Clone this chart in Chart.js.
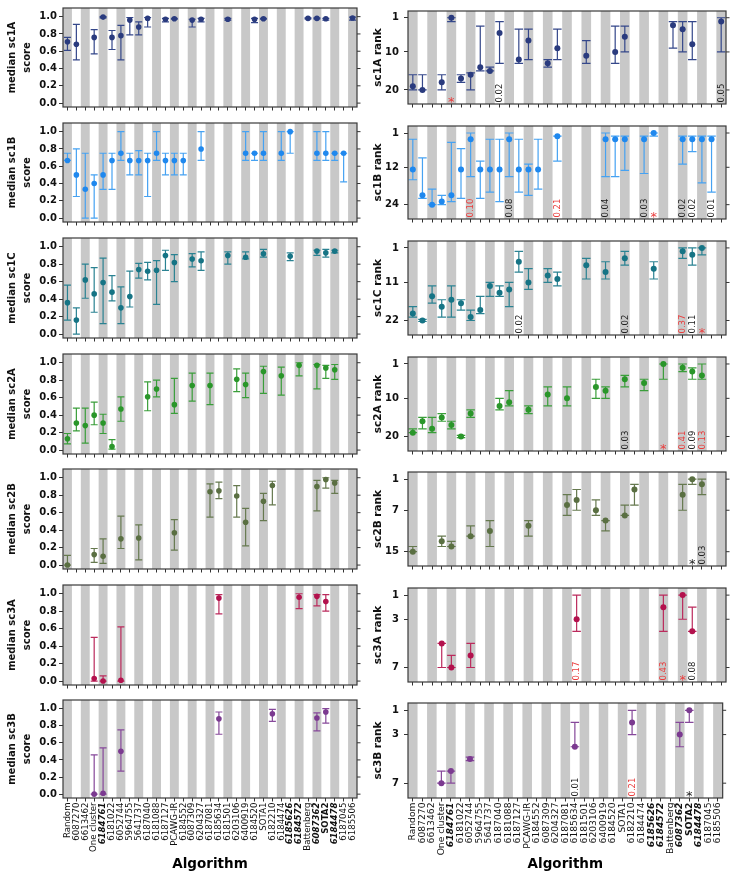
<!DOCTYPE html>
<html><head><meta charset="utf-8">
<script src="https://cdn.jsdelivr.net/npm/chart.js@4.4.1/dist/chart.umd.min.js"></script>
<style>
html,body{margin:0;padding:0;background:#fff;width:730px;height:874px;overflow:hidden;position:relative}
canvas{position:absolute}
</style></head><body>
<script>
const _ = null;
const categories = ["Random","6087270","6613462","One cluster","6184761","6181022","6052744","5964755","5641737","6187040","6181088",
  "6187127","PCAWG-IR","6184552","6087309","6204327","6187081","6185634","6181501","6203106","6400919","6184520",
  "SOTA1","6182210","6184474","6185626","6184572","Battenberg","6087362","SOTA2","6184478","6187045","6185506"];
const boldItalicLabels = ["6184761","6185626","6184572","6087362","6184478"];
const boldLabels = ["SOTA2"];
const scoreTicks = [0,0.2,0.4,0.6,0.8,1.0];

// ---- sc1A ----
const sc1A_score    = [0.71,0.68,_,0.76,0.995,0.76,0.78,0.96,0.88,0.98,_, 0.97,0.975,_,0.96,0.97,_,_,0.97,_,_,0.97, 0.975,_,_,_,_,0.98,0.98,0.975,_,_,0.985];
const sc1A_score_lo = [0.61,0.50,_,0.57,0.985,0.62,0.50,0.79,0.79,0.88,_, 0.94,0.97,_,0.88,0.94,_,_,0.96,_,_,0.93, 0.97,_,_,_,_,0.975,0.975,0.96,_,_,0.96];
const sc1A_score_hi = [0.76,0.91,_,0.85,1.0,0.84,0.90,0.99,0.94,0.99,_, 0.98,0.98,_,0.97,0.98,_,_,0.98,_,_,0.98, 0.98,_,_,_,_,0.985,0.985,0.98,_,_,0.995];
const sc1A_rank     = [19,20,_,18,1,17,16,14,15,5,_, 12,7,_,13,9,_,_,11,_,_,10, 6,_,_,_,_,3,4,8,_,_,2];
const sc1A_rank_lo  = [16,16,_,16,1,16,15.5,3.2,14,2,_, 4,4,_,12,4,_,_,7,_,_,3.2, 3.2,_,_,_,_,2,2,2,_,_,1];
const sc1A_rank_hi  = [20,20,_,20,2,18,20,15,15,13,_, 13,12,_,14,12,_,_,13,_,_,13, 10,_,_,_,_,9,10,12,_,_,10];
const sc1A_rank_ticks = [1,10,20];
const sc1A_notes = [[4,"*","r"],[9,"0.02","k"],[32,"0.05","k"]];

// ---- sc1B ----
const sc1B_score    = [0.667,0.5,0.333,0.4,0.5,0.667,0.75,0.667,0.667,0.667,0.75, 0.667,0.667,0.667,_,0.8,_,_,_,_,0.75,0.75, 0.75,_,0.75,1.0,_,_,0.75,0.75,0.75,0.75,_];
const sc1B_score_lo = [0.667,0.25,0.0,0.0,0.333,0.333,0.667,0.5,0.5,0.25,0.667, 0.5,0.5,0.5,_,0.667,_,_,_,_,0.667,0.667, 0.667,_,0.667,0.75,_,_,0.667,0.667,0.667,0.42,_];
const sc1B_score_hi = [0.75,0.8,0.75,0.5,0.75,0.75,1.0,0.75,0.78,0.75,1.0, 0.75,0.75,0.75,_,1.0,_,_,_,_,1.0,0.75, 1.0,_,1.0,1.0,_,_,1.0,1.0,0.75,0.75,_];
const sc1B_rank     = [12.7,21,24,23,21,12.7,3,12.7,12.7,12.7,3, 12.7,12.7,12.7,_,2,_,_,_,_,3,3, 3,_,3,1,_,_,3,3,3,3,_];
const sc1B_rank_lo  = [3,9,19,21,4,6,1,10,3,3,1, 3,11,3,_,2,_,_,_,_,1,2, 2,_,2,1,_,_,2,2,2,2,_];
const sc1B_rank_hi  = [16,22,24,24,23,22,15,22,20,23,15, 20,21,19,_,10,_,_,_,_,15,15, 13,_,14,2,_,_,11,7,17,20,_];
const sc1B_rank_ticks = [1,12,24];
const sc1B_notes = [[6,"0.10","r"],[10,"0.08","k"],[15,"0.21","r"],[20,"0.04","k"],[24,"0.03","k"],[25,"*","r"],[28,"0.02","k"],[29,"0.02","k"],[31,"0.01","k"]];

// ---- sc1C ----
const sc1C_score    = [0.36,0.16,0.62,0.46,0.59,0.48,0.30,0.43,0.74,0.72,0.73, 0.90,0.82,_,0.86,0.84,_,_,0.90,_,0.88,_, 0.92,_,_,0.89,_,_,0.95,0.93,0.95,_,_];
const sc1C_score_lo = [0.16,0.0,0.41,0.25,0.12,0.38,0.12,0.31,0.64,0.62,0.34, 0.73,0.60,_,0.77,0.73,_,_,0.80,_,0.86,_, 0.88,_,_,0.84,_,_,0.90,0.88,0.93,_,_];
const sc1C_score_hi = [0.56,0.30,0.80,0.76,0.87,0.67,0.54,0.72,0.81,0.82,0.84, 0.96,0.91,_,0.92,0.94,_,_,0.94,_,0.94,_, 0.97,_,_,0.93,_,_,0.96,0.97,0.96,_,_];
const sc1C_rank     = [20,22,15,18,16,17,21,19,12,14,13, 5,11,_,9,10,_,_,6,_,8,_, 4,_,_,7,_,_,2,3,1,_,_];
const sc1C_rank_lo  = [18,21.7,12,16,12,16,19,15,11,12,11, 2,7,_,7,8,_,_,4,_,5,_, 2,_,_,5,_,_,1,1,1,_,_];
const sc1C_rank_hi  = [21,22.3,17,21,21,19,22,20,15,15,18, 8,13,_,11,12,_,_,10,_,10,_, 6,_,_,10,_,_,4,6,3,_,_];
const sc1C_rank_ticks = [1,11,22];
const sc1C_notes = [[11,"0.02","k"],[22,"0.02","k"],[28,"0.37","r"],[29,"0.11","k"],[30,"*","r"]];

// ---- sc2A ----
const sc2A_score    = [0.13,0.31,0.28,0.40,0.31,0.04,0.47,_,_,0.61,0.70, _,0.52,_,0.74,_,0.74,_,_,0.81,0.75,_, 0.90,_,0.85,_,0.97,_,0.97,0.94,0.92,_,_];
const sc2A_score_lo = [0.07,0.22,0.08,0.29,0.19,0.01,0.33,_,_,0.45,0.61, _,0.42,_,0.56,_,0.52,_,_,0.67,0.60,_, 0.65,_,0.63,_,0.85,_,0.70,0.82,0.81,_,_];
const sc2A_score_hi = [0.19,0.48,0.48,0.55,0.41,0.12,0.61,_,_,0.78,0.80, _,0.82,_,0.88,_,0.88,_,_,0.93,0.88,_, 0.96,_,0.95,_,1.0,_,0.98,0.97,0.98,_,_];
const sc2A_rank     = [19,16,18,15,17,20,14,_,_,12,11, _,13,_,9,_,10,_,_,7,8,_, 5,_,6,_,1,_,2,3,4,_,_];
const sc2A_rank_lo  = [18,15,15,14,16,19.7,13,_,_,10,8, _,12,_,7,_,7,_,_,5,7,_, 4,_,5,_,1,_,1,2,1,_,_];
const sc2A_rank_hi  = [19,18,19,16,18,20.3,15,_,_,13,12, _,14,_,12,_,12,_,_,10,10,_, 7,_,8,_,5,_,3,5,5,_,_];
const sc2A_rank_ticks = [1,10,20];
const sc2A_notes = [[22,"0.03","k"],[26,"*","r"],[28,"0.41","r"],[29,"0.09","k"],[30,"0.13","r"]];

// ---- sc2B ----
const sc2B_score    = [0.0,_,_,0.12,0.10,_,0.30,_,0.31,_,_, _,0.37,_,_,_,0.84,0.85,_,0.79,0.49,_, 0.73,0.91,_,_,_,_,0.90,0.98,0.94,_,_];
const sc2B_score_lo = [0.0,_,_,0.03,0.02,_,0.19,_,0.06,_,_, _,0.17,_,_,_,0.55,0.76,_,0.55,0.22,_, 0.51,0.69,_,_,_,_,0.62,0.88,0.82,_,_];
const sc2B_score_hi = [0.11,_,_,0.19,0.30,_,0.56,_,0.46,_,_, _,0.52,_,_,_,0.93,0.95,_,0.91,0.65,_, 0.82,0.96,_,_,_,_,0.97,1.0,0.97,_,_];
const sc2B_rank     = [15,_,_,13,14,_,12,_,11,_,_, _,10,_,_,_,6,5,_,7,9,_, 8,3,_,_,_,_,4,1,2,_,_];
const sc2B_rank_lo  = [14,_,_,12,13,_,10,_,9,_,_, _,9,_,_,_,4,3,_,5,9,_, 6,2,_,_,_,_,2,1,1,_,_];
const sc2B_rank_hi  = [15,_,_,14,14,_,12,_,14,_,_, _,12,_,_,_,8,7,_,8,11,_, 8,6,_,_,_,_,7,2,4,_,_];
const sc2B_rank_ticks = [1,7,15];
const sc2B_notes = [[29,"*","k"],[30,"0.03","k"]];

// ---- sc3A ----
const sc3A_score    = [_,_,_,0.03,0.0,_,0.01,_,_,_,_, _,_,_,_,_,_,0.95,_,_,_,_, _,_,_,_,0.96,_,0.97,0.91,_,_,_];
const sc3A_score_lo = [_,_,_,0.0,0.0,_,0.0,_,_,_,_, _,_,_,_,_,_,0.77,_,_,_,_, _,_,_,_,0.83,_,0.86,0.80,_,_,_];
const sc3A_score_hi = [_,_,_,0.50,0.06,_,0.62,_,_,_,_, _,_,_,_,_,_,0.99,_,_,_,_, _,_,_,_,1.0,_,0.99,0.99,_,_,_];
const sc3A_rank     = [_,_,_,5,7,_,6,_,_,_,_, _,_,_,_,_,_,3,_,_,_,_, _,_,_,_,2,_,1,4,_,_,_];
const sc3A_rank_lo  = [_,_,_,5,6,_,5,_,_,_,_, _,_,_,_,_,_,1,_,_,_,_, _,_,_,_,1,_,1,2,_,_,_];
const sc3A_rank_hi  = [_,_,_,7,7,_,7,_,_,_,_, _,_,_,_,_,_,4,_,_,_,_, _,_,_,_,4,_,3,4,_,_,_];
const sc3A_rank_ticks = [1,3,7];
const sc3A_notes = [[17,"0.17","r"],[26,"0.43","r"],[28,"*","r"],[29,"0.08","k"]];

// ---- sc3B ----
const sc3B_score    = [_,_,_,0.0,0.01,_,0.50,_,_,_,_, _,_,_,_,_,_,0.88,_,_,_,_, _,0.94,_,_,_,_,0.89,0.96,_,_,_];
const sc3B_score_lo = [_,_,_,0.0,0.0,_,0.27,_,_,_,_, _,_,_,_,_,_,0.70,_,_,_,_, _,0.85,_,_,_,_,0.74,0.83,_,_,_];
const sc3B_score_hi = [_,_,_,0.46,0.54,_,0.75,_,_,_,_, _,_,_,_,_,_,0.96,_,_,_,_, _,0.99,_,_,_,_,0.95,1.0,_,_,_];
const sc3B_rank     = [_,_,_,7,6,_,5,_,_,_,_, _,_,_,_,_,_,4,_,_,_,_, _,2,_,_,_,_,3,1,_,_,_];
const sc3B_rank_lo  = [_,_,_,6,6,_,4.85,_,_,_,_, _,_,_,_,_,_,2,_,_,_,_, _,1,_,_,_,_,2,1,_,_,_];
const sc3B_rank_hi  = [_,_,_,7,7,_,5.15,_,_,_,_, _,_,_,_,_,_,4,_,_,_,_, _,3,_,_,_,_,4,2,_,_,_];
const sc3B_rank_ticks = [1,3,7];
const sc3B_notes = [[17,"0.01","k"],[23,"0.21","r"],[29,"*","k"]];

// ---- panel styling / layout ----
const FONT = "'DejaVu Sans', 'Liberation Sans', sans-serif";
const rowsCfg = [
  {key:"sc1A", color:"#2a3b7e", err:"#34478a", score:[sc1A_score,sc1A_score_lo,sc1A_score_hi], rank:[sc1A_rank,sc1A_rank_lo,sc1A_rank_hi], rticks:sc1A_rank_ticks, rrange:[-0.77,23.7], notes:sc1A_notes},
  {key:"sc1B", color:"#1f88ee", err:"#46a2f2", score:[sc1B_score,sc1B_score_lo,sc1B_score_hi], rank:[sc1B_rank,sc1B_rank_lo,sc1B_rank_hi], rticks:sc1B_rank_ticks, rrange:[-1.25,28.6], notes:sc1B_notes},
  {key:"sc1C", color:"#167485", err:"#2a8292", score:[sc1C_score,sc1C_score_lo,sc1C_score_hi], rank:[sc1C_rank,sc1C_rank_lo,sc1C_rank_hi], rticks:sc1C_rank_ticks, rrange:[-1.0,26.2], notes:sc1C_notes},
  {key:"sc2A", color:"#2a962a", err:"#3a9e3a", score:[sc2A_score,sc2A_score_lo,sc2A_score_hi], rank:[sc2A_rank,sc2A_rank_lo,sc2A_rank_hi], rticks:sc2A_rank_ticks, rrange:[-0.83,23.8], notes:sc2A_notes},
  {key:"sc2B", color:"#5a6f42", err:"#66794f", score:[sc2B_score,sc2B_score_lo,sc2B_score_hi], rank:[sc2B_rank,sc2B_rank_lo,sc2B_rank_hi], rticks:sc2B_rank_ticks, rrange:[-0.38,17.76], notes:sc2B_notes},
  {key:"sc3A", color:"#b3114d", err:"#bb2a5c", score:[sc3A_score,sc3A_score_lo,sc3A_score_hi], rank:[sc3A_rank,sc3A_rank_lo,sc3A_rank_hi], rticks:sc3A_rank_ticks, rrange:[0.41,8.2], notes:sc3A_notes},
  {key:"sc3B", color:"#7b3a90", err:"#86489a", score:[sc3B_score,sc3B_score_lo,sc3B_score_hi], rank:[sc3B_rank,sc3B_rank_lo,sc3B_rank_hi], rticks:sc3B_rank_ticks, rrange:[0.4,8.22], notes:sc3B_notes}
];
const ROW_TOPS = [2,117,232,348,463,579,694];
const ROW_H = [107,107,108,108,108,108,104];

const panelPlugin = {
  id: "panel",
  beforeDatasetsDraw(chart, args, opts) {
    const {ctx, chartArea:a, scales:{x, y}} = chart;
    const n = chart.data.labels.length;
    const w = (a.right - a.left) / n;
    ctx.save();
    ctx.fillStyle = "#c8c8c8";
    for (let i = 0; i < n; i += 2) {
      const cx = x.getPixelForValue(i);
      ctx.fillRect(cx - w/2, a.top, w, a.bottom - a.top);
    }
    const ds = chart.data.datasets[0];
    ctx.strokeStyle = ds.errColor;
    ctx.lineWidth = 1.2;
    ds.data.forEach((v, i) => {
      if (v == null) return;
      const px = x.getPixelForValue(i);
      const y1 = y.getPixelForValue(ds.errLo[i]);
      const y2 = y.getPixelForValue(ds.errHi[i]);
      const c = opts.cap / 2;
      ctx.beginPath();
      ctx.moveTo(px, y1); ctx.lineTo(px, y2);
      ctx.moveTo(px - c, y1); ctx.lineTo(px + c, y1);
      ctx.moveTo(px - c, y2); ctx.lineTo(px + c, y2);
      ctx.stroke();
    });
    ctx.restore();
  },
  afterDraw(chart, args, opts) {
    const {ctx, chartArea:a, scales:{x, y}} = chart;
    ctx.save();
    ctx.strokeStyle = "#333"; ctx.lineWidth = 1;
    y.ticks.forEach(t => {
      const py = y.getPixelForValue(t.value);
      ctx.beginPath(); ctx.moveTo(a.right, py); ctx.lineTo(a.right + 3.5, py); ctx.stroke();
    });
    ctx.strokeStyle = "#3a3a3a"; ctx.lineWidth = 1.2;
    ctx.strokeRect(a.left, a.top, a.right - a.left, a.bottom - a.top);
    (opts.notes || []).forEach(([i, txt, c]) => {
      const px = x.getPixelForValue(i);
      ctx.fillStyle = c === "r" ? "#ea3c3c" : "#222";
      if (txt === "*") {
        ctx.font = "13px " + FONT;
        ctx.textAlign = "center"; ctx.textBaseline = "alphabetic";
        ctx.fillText("*", px, a.bottom + 1.5);
      } else {
        ctx.save();
        ctx.translate(px, a.bottom - 1.5);
        ctx.rotate(-Math.PI / 2);
        ctx.font = "8.5px " + FONT;
        ctx.textAlign = "left"; ctx.textBaseline = "middle";
        ctx.fillText(txt, 0, 0.5);
        ctx.restore();
      }
    });
    ctx.restore();
  }
};

function makePanel(r, isL) {
  const cfg = rowsCfg[r];
  const bottomRow = r === rowsCfg.length - 1;
  const top = ROW_TOPS[r] - 2;
  const height = bottomRow ? 874 - top : ROW_H[r] + 8;
  const canvas = document.createElement("canvas");
  canvas.width = 365; canvas.height = height;
  canvas.style.left = (isL ? 0 : 365) + "px";
  canvas.style.top = top + "px";
  canvas.style.width = "365px"; canvas.style.height = height + "px";
  document.body.appendChild(canvas);
  const yW = isL ? 63 : 43;
  const padR = isL ? 8 : 4;
  const xH = height - 2 - ROW_H[r];
  const [vals, lo, hi] = isL ? cfg.score : cfg.rank;
  const tickVals = isL ? scoreTicks : cfg.rticks;
  new Chart(canvas, {
    type: "line",
    data: { labels: categories, datasets: [{
      data: vals, errLo: lo, errHi: hi, errColor: cfg.err,
      showLine: false, pointRadius: isL ? 2.8 : 3.0, pointHoverRadius: 0,
      pointBackgroundColor: cfg.color, pointBorderWidth: 0
    }]},
    options: {
      responsive: false, animation: false, events: [],
      layout: { padding: { top: 2, right: padR, left: 0, bottom: 0 } },
      plugins: { legend: {display:false}, tooltip: {enabled:false},
        panel: { cap: isL ? 7 : 8.5, notes: isL ? [] : cfg.notes } },
      scales: {
        x: {
          type: "category", offset: true,
          grid: { display: true, drawOnChartArea: false, drawTicks: true, tickLength: 3.5, color: "#333", offset: false },
          border: { display: false },
          ticks: { display: bottomRow, autoSkip: false, minRotation: 90, maxRotation: 90, padding: 1, color: "#111",
            font: (ctx) => {
              const lab = categories[ctx.index];
              const bi = boldItalicLabels.includes(lab), b = boldLabels.includes(lab);
              return { family: FONT, size: isL ? 8.6 : 9.2, weight: (bi || b) ? "bold" : "normal", style: bi ? "italic" : "normal" };
            } },
          title: { display: bottomRow, text: "Algorithm", color: "#000",
            font: { family: FONT, size: 13.5, weight: "bold", lineHeight: 1.2 }, padding: { top: 0, bottom: 1 } },
          afterFit: (s) => { s.height = xH; }
        },
        y: {
          min: isL ? -0.045 : cfg.rrange[0], max: isL ? 1.1 : cfg.rrange[1], reverse: !isL,
          grid: { drawOnChartArea: false, drawTicks: true, tickLength: 4, color: "#333" },
          border: { display: false },
          afterBuildTicks: (s) => { s.ticks = tickVals.map(v => ({ value: v })); },
          ticks: { color: "#111", padding: isL ? 2 : 5,
            font: { family: FONT, size: 10, weight: "bold" },
            callback: (v) => isL ? Number(v).toFixed(1) : String(v) },
          title: { display: true, color: "#111",
            text: isL ? ["median " + cfg.key, "score"] : cfg.key + " rank",
            font: { family: FONT, size: isL ? 10 : 10.5, weight: "bold", lineHeight: isL ? 1.5 : 1.2 },
            padding: { top: isL ? 4.5 : 6.5, bottom: 0 } },
          afterFit: (s) => { s.width = yW; }
        }
      }
    },
    plugins: [panelPlugin]
  });
}

for (let r = 0; r < rowsCfg.length; r++) { makePanel(r, true); makePanel(r, false); }
</script>
</body></html>
